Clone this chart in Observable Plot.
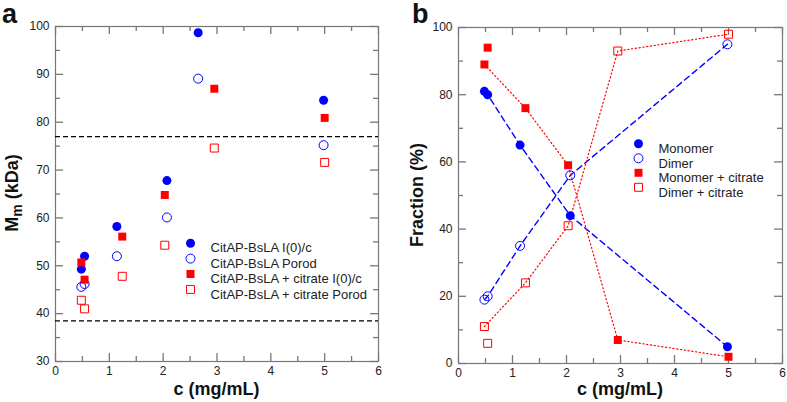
<!DOCTYPE html>
<html><head><meta charset="utf-8">
<script src="https://cdn.jsdelivr.net/npm/d3@7"></script>
<script src="https://cdn.jsdelivr.net/npm/@observablehq/plot@0.6"></script>
<style>
body{margin:0;background:#fff;}
#wrap{position:relative;width:787px;height:402px;overflow:hidden;font-family:"Liberation Sans",Arial,sans-serif;}
#wrap svg{position:absolute;top:0;}
</style></head><body><div id="wrap"></div>
<script>
// ---------- data ----------
// panel a : molecular mass (kDa) vs concentration (mg/mL)
const concNoCit = [0.48, 0.54, 1.14, 2.07, 2.65, 4.98];
const concCit = [0.48, 0.54, 1.24, 2.03, 2.95, 5.0];
const mmI0 = [49.3, 52.0, 58.2, 67.8, 98.7, 84.6];
const mmPorod = [45.6, 46.2, 52.0, 60.1, 89.1, 75.2];
const mmCitI0 = [50.7, 47.1, 56.1, 64.8, 87.0, 80.9];
const mmCitPorod = [42.8, 41.0, 47.8, 54.3, 74.6, 71.6];
const refMasses = [77.0, 38.5];
const seriesA = ["CitAP-BsLA I(0)/c", "CitAP-BsLA Porod", "CitAP-BsLA + citrate I(0)/c", "CitAP-BsLA + citrate Porod"];

// panel b : fractions (%)
const concB = [0.48, 0.54, 1.14, 2.07, 4.98];
const monomer = [81, 80, 65, 44, 5];
const dimer = [19, 20, 35, 56, 95];
const monomerCit = [89, 94, 76, 59, 7, 2];
const dimerCit = [11, 6, 24, 41, 93, 98];
const citLinked = [true, false, true, true, true, true];
const seriesB = ["Monomer", "Dimer", "Monomer + citrate", "Dimer + citrate"];

// ticks
const xMajor = [0, 1, 2, 3, 4, 5, 6];
const xMinor = [0.5, 1.5, 2.5, 3.5, 4.5, 5.5];
const yMajorA = [30, 40, 50, 60, 70, 80, 90, 100];
const yMinorA = [35, 45, 55, 65, 75, 85, 95];
const yMajorB = [0, 20, 40, 60, 80, 100];
const yMinorB = [10, 30, 50, 70, 90];

// ---------- helpers ----------
const GRAY = "#777777";
const BLUE = "#0000ff";
const RED = "#ff0000";
const styles = [
  {fill: BLUE, stroke: "none", symbol: "circle"},
  {fill: "none", stroke: BLUE, symbol: "circle"},
  {fill: RED, stroke: "none", symbol: "square"},
  {fill: "none", stroke: RED, symbol: "square"}
];
const zipXY = (xs, ys) => ys.map((y, i) => ({x: xs[i], y}));

// inward ticks on all four sides (W, H = inner frame size in px)
function boxAxes(yMajor, yMinor, W, H) {
  const s = {stroke: GRAY, strokeWidth: 1.3};
  const tx = (vals, L) => [
    Plot.tickX(vals, {x: d => d, insetTop: H - L, ...s}),
    Plot.tickX(vals, {x: d => d, insetBottom: H - L, ...s})
  ];
  const ty = (vals, L) => [
    Plot.tickY(vals, {y: d => d, insetRight: W - L, ...s}),
    Plot.tickY(vals, {y: d => d, insetLeft: W - L, ...s})
  ];
  return [
    ...tx(xMajor, 8), ...tx(xMinor, 5), ...ty(yMajor, 8), ...ty(yMinor, 5),
    Plot.axisX(xMajor, {anchor: "bottom", tickSize: 0, tickPadding: 5, fill: "#222", stroke: "none", label: null, tickFormat: d => String(d)}),
    Plot.axisY(yMajor, {anchor: "left", tickSize: 0, tickPadding: 6, fill: "#222", stroke: "none", label: null, tickFormat: d => String(d)})
  ];
}
function legendMarks(names, dx, dy, step) {
  const out = [];
  names.forEach((name, i) => {
    out.push(Plot.dot([name], {frameAnchor: "top-left", dx, dy: dy + i * step, r: 4.5, strokeWidth: 1, ...styles[i]}));
    out.push(Plot.text([name], {frameAnchor: "top-left", dx: dx + 20, dy: dy + i * step, text: d => d, textAnchor: "start", fontSize: 13, fill: "#222"}));
  });
  return out;
}
const baseStyle = {fontFamily: "'Liberation Sans', Arial, sans-serif", fontSize: "12px", color: "#222", background: "transparent", overflow: "visible"};

// ---------- panel a ----------
const plotA = Plot.plot({
  width: 393, height: 402,
  marginLeft: 55, marginRight: 15, marginTop: 26, marginBottom: 41,
  x: {domain: [0, 6]},
  y: {domain: [30, 100]},
  style: baseStyle,
  marks: [
    ...boxAxes(yMajorA, yMinorA, 393 - 55 - 15, 402 - 26 - 41),
    Plot.frame({stroke: GRAY, strokeWidth: 1.2}),
    Plot.ruleY(refMasses, {stroke: "#000", strokeWidth: 1.2, strokeDasharray: "5,3"}),
    Plot.dot(zipXY(concNoCit, mmI0), {x: "x", y: "y", r: 4.5, ...styles[0]}),
    Plot.dot(zipXY(concNoCit, mmPorod), {x: "x", y: "y", r: 4.5, strokeWidth: 1, ...styles[1]}),
    Plot.dot(zipXY(concCit, mmCitI0), {x: "x", y: "y", r: 4.5, ...styles[2]}),
    Plot.dot(zipXY(concCit, mmCitPorod), {x: "x", y: "y", r: 4.5, strokeWidth: 1, ...styles[3]}),
    ...legendMarks(seriesA, 135, 216.7, 15.4)
  ]
});

// ---------- panel b ----------
const monoCitData = zipXY(concCit, monomerCit);
const dimCitData = zipXY(concCit, dimerCit);
const plotB = Plot.plot({
  width: 394, height: 402,
  marginLeft: 65, marginRight: 5, marginTop: 27, marginBottom: 39,
  x: {domain: [0, 6]},
  y: {domain: [0, 100]},
  style: baseStyle,
  marks: [
    ...boxAxes(yMajorB, yMinorB, 394 - 65 - 5, 402 - 27 - 39),
    Plot.frame({stroke: GRAY, strokeWidth: 1.2}),
    Plot.line(zipXY(concB, monomer), {x: "x", y: "y", stroke: BLUE, strokeWidth: 1.4, strokeDasharray: "6,4"}),
    Plot.line(zipXY(concB, dimer), {x: "x", y: "y", stroke: BLUE, strokeWidth: 1.4, strokeDasharray: "6,4"}),
    Plot.line(monoCitData.filter((d, i) => citLinked[i]), {x: "x", y: "y", stroke: RED, strokeWidth: 1.2, strokeDasharray: "1.2,2.6"}),
    Plot.line(dimCitData.filter((d, i) => citLinked[i]), {x: "x", y: "y", stroke: RED, strokeWidth: 1.2, strokeDasharray: "1.2,2.6"}),
    Plot.dot(zipXY(concB, monomer), {x: "x", y: "y", r: 4.5, ...styles[0]}),
    Plot.dot(zipXY(concB, dimer), {x: "x", y: "y", r: 4.5, strokeWidth: 1, ...styles[1]}),
    Plot.dot(monoCitData, {x: "x", y: "y", r: 4.5, ...styles[2]}),
    Plot.dot(dimCitData, {x: "x", y: "y", r: 4.5, strokeWidth: 1, ...styles[3]}),
    ...legendMarks(seriesB, 180, 116.3, 14.5)
  ]
});

const wrap = document.getElementById("wrap");
plotA.style.left = "0px";
plotB.style.left = "393px";
wrap.appendChild(plotA);
wrap.appendChild(plotB);

// ---------- titles / axis labels ----------
function addText(svg, x, y, size, opts = {}) {
  const t = d3.select(svg).append("text")
    .attr("x", x).attr("y", y)
    .attr("font-size", size).attr("font-weight", "bold")
    .attr("font-family", "'Liberation Sans', Arial, sans-serif")
    .attr("fill", "#111")
    .attr("text-anchor", opts.anchor || "start");
  if (opts.transform) t.attr("transform", opts.transform);
  return t;
}
addText(plotA, 2, 23, 27).text("a");
addText(plotA, 216.5, 395, 18, {anchor: "middle"}).text("c (mg/mL)");
{
  const t = addText(plotA, 0, 0, 18, {anchor: "middle", transform: "translate(17.5,193) rotate(-90)"});
  t.append("tspan").text("M");
  t.append("tspan").attr("font-size", 14).attr("dy", 4).text("m");
  t.append("tspan").attr("dy", -4).text(" (kDa)");
}
addText(plotB, 19, 23, 27).text("b");
addText(plotB, 227, 395, 18, {anchor: "middle"}).text("c (mg/mL)");
addText(plotB, 0, 0, 18, {anchor: "middle", transform: "translate(30,195) rotate(-90)"}).text("Fraction (%)");
</script></body></html>
